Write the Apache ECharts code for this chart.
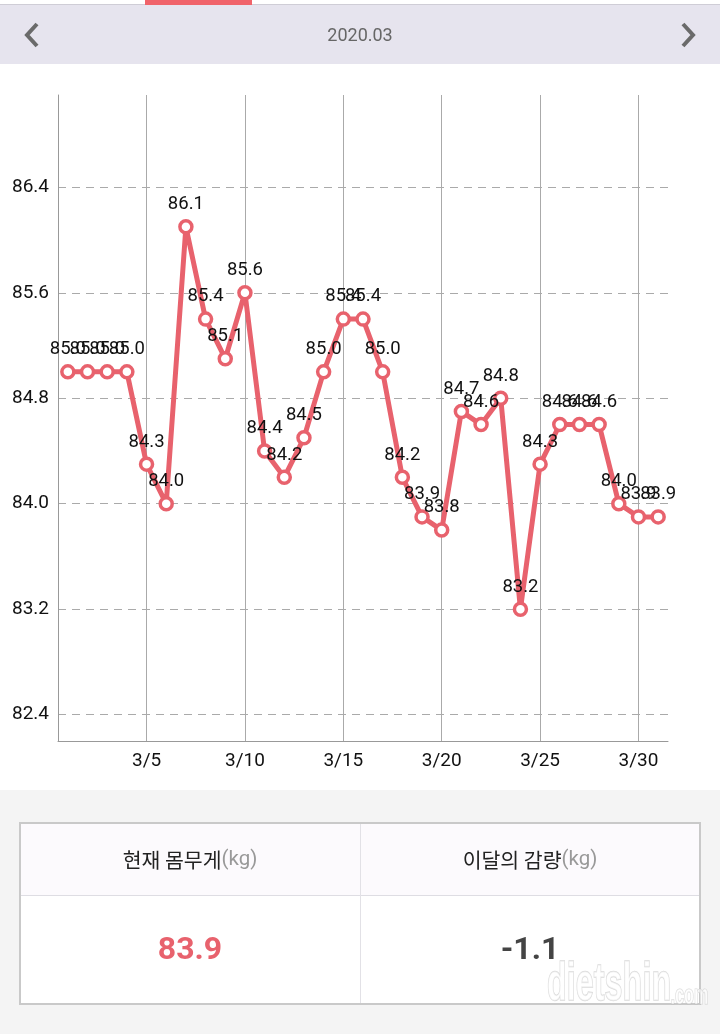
<!DOCTYPE html>
<html>
<head>
<meta charset="utf-8">
<script src="https://cdn.jsdelivr.net/npm/echarts@6/dist/echarts.min.js"></script>
<style>
html,body{margin:0;padding:0;background:#fff;}
#chart{width:720px;height:1034px;}
</style>
</head>
<body>
<div id="chart"></div>
<script>
// ---- data ----
const monthTitle = "2020.03";
const days = [1,2,3,4,5,6,7,8,9,10,11,12,13,14,15,16,17,18,19,20,21,22,23,24,25,26,27,28,29,30,31];
const weights = [85.0,85.0,85.0,85.0,84.3,84.0,86.1,85.4,85.1,85.6,84.4,84.2,84.5,85.0,85.4,85.4,85.0,84.2,83.9,83.8,84.7,84.6,84.8,83.2,84.3,84.6,84.6,84.6,84.0,83.9,83.9];
const yTicks = [82.4,83.2,84.0,84.8,85.6,86.4];
const xTicks = [5,10,15,20,25,30];
const xTickPrefix = "3/";
const yMin = 82.2, yMax = 87.1;
const xMin = 0.5, xMax = 31.5;
const headerLabels = ["현재 몸무게", "이달의 감량"];
const unitLabel = "(kg)";
const currentWeight = "83.9";
const monthChange = "-1.1";
const watermarkMain = "dietshin";
const watermarkTail = ".com";

const lineColor = "#e8626d";
const seriesData = days.map((d,i)=>[d, weights[i]]);

const chart = echarts.init(document.getElementById('chart'), null, {renderer:'canvas'});

const wmFill = 'rgba(255,255,255,0.6)';
const wmStroke = 'rgba(185,185,185,0.55)';

const graphics = [
  // top tab indicator
  {type:'rect', shape:{x:0,y:4,width:720,height:2}, style:{fill:'#cfcdd6'}, z:1},
  {type:'rect', shape:{x:145,y:0,width:107,height:5}, style:{fill:'#f0636a'}, z:2},
  // header bar
  {type:'rect', shape:{x:0,y:5,width:720,height:59}, style:{fill:'#e6e4ee'}, z:1},
  {type:'text', x:360, y:36, style:{text:monthTitle, font:'18px Roboto', fill:'#666', align:'center', verticalAlign:'middle'}, z:3},
  {type:'polyline', shape:{points:[[37,24],[27,35],[37,46]]}, style:{stroke:'#6a6a6a', lineWidth:4, fill:null}, z:3},
  {type:'polyline', shape:{points:[[683,24],[693,35],[683,46]]}, style:{stroke:'#6a6a6a', lineWidth:4, fill:null}, z:3},
  // bottom panel
  {type:'rect', shape:{x:0,y:790,width:720,height:244}, style:{fill:'#f4f4f4'}, z:1},
  {type:'rect', shape:{x:20,y:823,width:680,height:181}, style:{fill:'#ffffff', stroke:'#c9c9c9', lineWidth:2}, z:2},
  {type:'rect', shape:{x:21,y:824,width:678,height:71}, style:{fill:'#fcfafd'}, z:2},
  {type:'line', shape:{x1:21,y1:895.5,x2:699,y2:895.5}, style:{stroke:'#dedde3', lineWidth:1}, z:3},
  {type:'line', shape:{x1:360.5,y1:824,x2:360.5,y2:1003}, style:{stroke:'#e2e1e6', lineWidth:1}, z:3},
  {type:'text', x:190, y:860, style:{rich:{a:{font:'20.5px "Noto Sans CJK KR"', fill:'#222'}, b:{font:'20.5px Roboto', fill:'#999'}}, text:'{a|'+headerLabels[0]+'}{b|'+unitLabel+'}', align:'center', verticalAlign:'middle'}, z:4},
  {type:'text', x:530, y:860, style:{rich:{a:{font:'20.5px "Noto Sans CJK KR"', fill:'#222'}, b:{font:'20.5px Roboto', fill:'#999'}}, text:'{a|'+headerLabels[1]+'}{b|'+unitLabel+'}', align:'center', verticalAlign:'middle'}, z:4},
  {type:'text', x:190, y:951, style:{text:currentWeight, font:'bold 32px Roboto', fill:'#e8626d', align:'center', verticalAlign:'middle'}, z:4},
  {type:'text', x:530, y:951, style:{text:monthChange, font:'bold 32px Roboto', fill:'#444', align:'center', verticalAlign:'middle'}, z:4},
  {type:'group', x:547, y:1012, scaleX:0.6, scaleY:1, z:6, children:[
    {type:'text', x:0, y:0, style:{text:watermarkMain, font:'bold 54px "Liberation Sans", sans-serif', fill:wmFill, stroke:wmStroke, lineWidth:1.5, align:'left', verticalAlign:'bottom'}, z:6},
    {type:'text', x:206, y:-2, style:{text:watermarkTail, font:'bold 27px "Liberation Sans", sans-serif', fill:wmFill, stroke:wmStroke, lineWidth:1.2, align:'left', verticalAlign:'bottom'}, z:6}
  ]}
];

const option = {
  backgroundColor:'#ffffff',
  animation:false,
  grid:{left:58, right:52, top:95, bottom:293, containLabel:false},
  xAxis:{
    type:'value', min:xMin, max:xMax,
    axisLine:{show:true, lineStyle:{color:'#999', width:1}},
    axisTick:{show:false, customValues:xTicks},
    axisLabel:{customValues:xTicks, formatter:v=>xTickPrefix+v, color:'#111', fontSize:19, fontFamily:'Roboto', margin:11},
    splitLine:{show:true, lineStyle:{color:'#aaa', width:1, type:'solid'}}
  },
  yAxis:{
    type:'value', min:yMin, max:yMax,
    axisLine:{show:true, lineStyle:{color:'#999', width:1}},
    axisTick:{show:false, customValues:yTicks},
    axisLabel:{customValues:yTicks, formatter:v=>Number(v).toFixed(1), color:'#111', fontSize:19, fontFamily:'Roboto', margin:9},
    splitLine:{show:true, lineStyle:{color:'#aaa', width:1, type:[8,6]}}
  },
  series:[{
    type:'line',
    data:seriesData,
    symbol:'circle', symbolSize:12,
    itemStyle:{color:'#ffffff', borderColor:lineColor, borderWidth:3.5},
    lineStyle:{color:lineColor, width:5},
    label:{show:true, position:'top', distance:5, color:'#111', fontSize:18.5, fontFamily:'Roboto', formatter:p=>p.value[1].toFixed(1)},
    z:5
  }],
  graphic:graphics
};
chart.setOption(option);
</script>
</body>
</html>
